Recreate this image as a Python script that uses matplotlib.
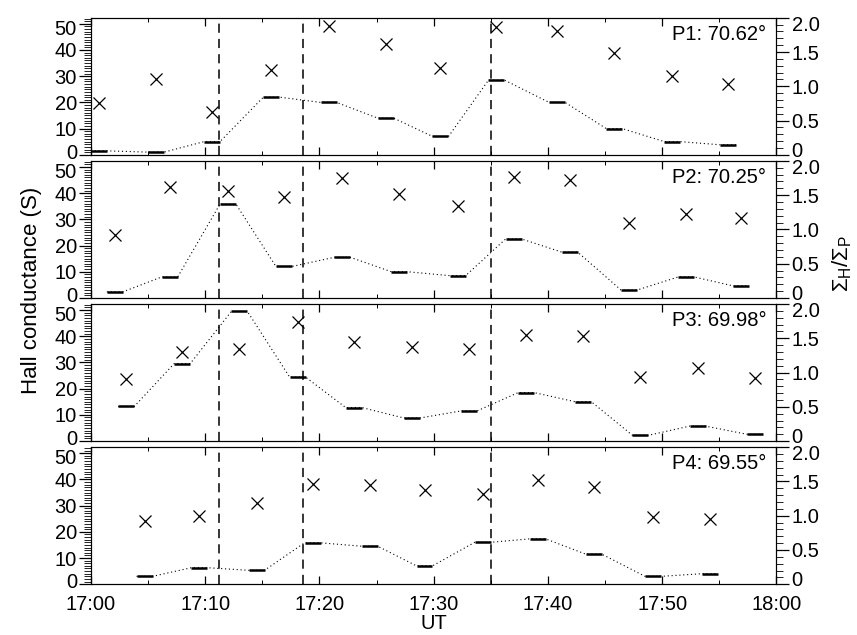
import numpy as np
import matplotlib
matplotlib.use("Agg")
import matplotlib.pyplot as plt
import matplotlib.transforms as mtrans
from matplotlib.ticker import MultipleLocator

plt.rcParams['font.family'] = ['Liberation Sans', 'DejaVu Sans']
plt.rcParams['mathtext.fontset'] = 'custom'
plt.rcParams['mathtext.rm'] = 'Liberation Sans'
plt.rcParams['mathtext.it'] = 'Liberation Sans'

# minutes after 17:00 at which each dwell starts
p1_start = [0.0, 5.0, 9.9, 15.1, 20.1, 25.1, 29.9, 34.8, 40.1, 45.1, 50.2, 55.1]
p2_start = [1.4, 6.2, 11.3, 16.2, 21.3, 26.3, 31.4, 36.3, 41.2, 46.4, 51.4, 56.2]
p3_start = [2.4, 7.3, 12.3, 17.4, 22.3, 27.4, 32.4, 37.4, 42.4, 47.4, 52.4, 57.4]
p4_start = [4.0, 8.8, 13.8, 18.7, 23.7, 28.5, 33.6, 38.4, 43.3, 48.5, 53.5]

# Hall conductance (S)
p1_hall = [1.5, 1.0, 5.0, 22.0, 20.0, 14.0, 7.0, 28.5, 20.0, 10.0, 5.0, 3.8]
p2_hall = [2.3, 8.0, 35.8, 12.0, 15.5, 10.0, 8.5, 22.5, 17.5, 3.0, 8.0, 4.6]
p3_hall = [13.2, 29.6, 49.5, 24.4, 12.8, 8.8, 11.5, 18.5, 15.0, 2.2, 5.7, 2.6]
p4_hall = [3.0, 6.3, 5.3, 15.8, 14.5, 7.0, 16.0, 17.3, 11.5, 3.0, 4.0]

# Sigma_H / Sigma_P
p1_ratio = [0.75, 1.11, 0.63, 1.24, 1.88, 1.61, 1.27, 1.87, 1.81, 1.48, 1.15, 1.04]
p2_ratio = [0.92, 1.62, 1.56, 1.47, 1.75, 1.52, 1.34, 1.76, 1.72, 1.10, 1.23, 1.16]
p3_ratio = [0.90, 1.30, 1.34, 1.74, 1.44, 1.37, 1.34, 1.55, 1.53, 0.94, 1.07, 0.92]
p4_ratio = [0.92, 1.00, 1.19, 1.46, 1.45, 1.37, 1.31, 1.52, 1.42, 0.98, 0.95]

labels = ["P1: 70.62°", "P2: 70.25°", "P3: 69.98°", "P4: 69.55°"]
event_times = [11.2, 18.6, 35.0]
xtick_pos = [0, 10, 20, 30, 40, 50, 60]
xtick_labels = ["17:00", "17:10", "17:20", "17:30", "17:40", "17:50", "18:00"]
dwell = 1.4  # length of each dwell in minutes

panels = [
    (p1_start, p1_hall, p1_ratio),
    (p2_start, p2_hall, p2_ratio),
    (p3_start, p3_hall, p3_ratio),
    (p4_start, p4_hall, p4_ratio),
]

fig, axes = plt.subplots(4, 1, figsize=(8.57, 6.35), dpi=100, sharex=True)
fig.subplots_adjust(left=0.106, right=0.906, top=0.972, bottom=0.080, hspace=0.045)

fs = 14.5


def nudge(pts):
    return mtrans.ScaledTranslation(0, pts / 72, fig.dpi_scale_trans)


for i, ax in enumerate(axes):
    start, hall, ratio = panels[i]
    start = np.array(start)
    hall = np.array(hall)
    ends = start + dwell

    # dotted line joining the dwells
    xs = np.column_stack([start, ends]).ravel()
    ys = np.column_stack([hall, hall]).ravel()
    ax.plot(xs, ys, color='black', ls=(0, (1, 2.5)), lw=0.8)
    ax.hlines(hall, start, ends, color='black', lw=1.8)

    for t in event_times:
        ax.axvline(t, color='black', ls=(0, (6, 4)), lw=1.1)

    ax.set_xlim(0, 60)
    ax.set_ylim(0, 52.3)
    ax.set_yticks([0, 10, 20, 30, 40, 50])
    ax.yaxis.set_minor_locator(MultipleLocator(1))
    ax.xaxis.set_minor_locator(MultipleLocator(5))
    ax.set_xticks(xtick_pos)
    ax.tick_params(axis='y', which='major', direction='out', length=9, width=0.9,
                   labelsize=fs, pad=1)
    ax.tick_params(axis='y', which='minor', direction='out', length=5, width=0.6)
    ax.tick_params(axis='x', which='major', direction='in', length=6, width=0.9,
                   top=True, labelsize=fs, pad=8)
    ax.tick_params(axis='x', which='minor', direction='in', length=3, width=0.7, top=True)

    ax2 = ax.twinx()
    ax2.plot(start + dwell / 2, ratio, 'x', color='black', ms=8, mew=0.9)
    ax2.set_ylim(0, 2.0)
    ax2.set_yticks([0, 0.5, 1.0, 1.5, 2.0])
    ax2.set_yticklabels(["0", "0.5", "1.0", "1.5", "2.0"])
    ax2.yaxis.set_minor_locator(MultipleLocator(0.1))
    ax2.tick_params(axis='y', which='major', direction='out', length=9, width=0.9,
                    labelsize=fs, pad=2)
    ax2.tick_params(axis='y', which='minor', direction='out', length=5, width=0.6)

    # nudge the end labels apart so neighbouring panels do not collide
    for a, d in ((ax, 2.5), (ax2, 4.0)):
        tl = a.get_yticklabels()
        tl[0].set_transform(tl[0].get_transform() + nudge(d))
        tl[-1].set_transform(tl[-1].get_transform() + nudge(-d))

    ax.text(0.985, 0.95, labels[i], transform=ax.transAxes, ha='right', va='top',
            fontsize=fs)

axes[-1].set_xticklabels(xtick_labels)
axes[-1].set_xlabel("UT", fontsize=fs, labelpad=0)

fig.text(0.037, 0.543, "Hall conductance (S)", rotation=90, ha='center', va='center',
         fontsize=16)
fig.text(0.983, 0.585, r"$\Sigma_H/\Sigma_P$", rotation=90, ha='center', va='center',
         fontsize=16)

fig.savefig("out.png", dpi=100)
